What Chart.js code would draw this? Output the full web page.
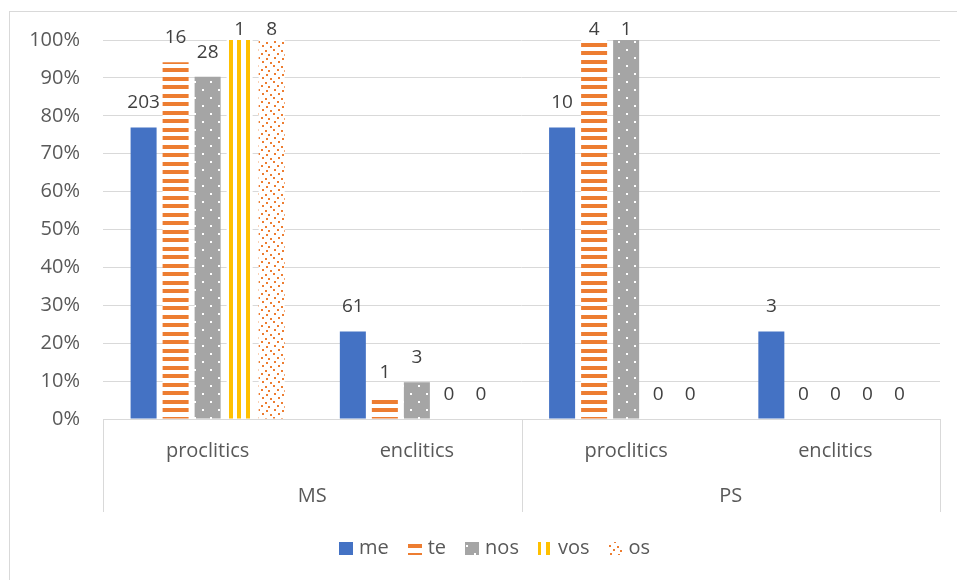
<!DOCTYPE html>
<html>
<head>
<meta charset="utf-8">
<script src="https://cdn.jsdelivr.net/npm/chart.js@4.4.1/dist/chart.umd.min.js"></script>
<style>
  html, body { margin: 0; padding: 0; background: #fff; }
  #wrap { position: relative; width: 957px; height: 580px; overflow: hidden; }
  #wrap canvas { position: absolute; left: 0; top: 0; }
  #frame { position: absolute; left: 9px; top: 11px; width: 1000px; height: 640px;
           border: 1px solid #d9d9d9; box-sizing: border-box; pointer-events: none; }
</style>
</head>
<body>
<div id="wrap">
  <canvas id="chart" width="957" height="580"></canvas>
  <div id="frame"></div>
</div>
<script>
// Clitic position by pronoun, in two corpora (MS / PS)
const groups = ['MS', 'PS'];
const categories = ['proclitics', 'enclitics', 'proclitics', 'enclitics'];
const categoryGroup = [0, 0, 1, 1];
const seriesNames = ['me', 'te', 'nos', 'vos', 'os'];

// token counts per category
const meCounts  = [203, 61, 10, 3];
const teCounts  = [16, 1, 4, 0];
const nosCounts = [28, 3, 1, 0];
const vosCounts = [1, 0, 0, 0];
const osCounts  = [8, 0, 0, 0];

const yTicks = [0, 10, 20, 30, 40, 50, 60, 70, 80, 90, 100];

// share of each count within its corpus (proclitics + enclitics = 100%)
function shares(counts) {
  return counts.map((c, i) => {
    let total = 0;
    counts.forEach((v, k) => { if (categoryGroup[k] === categoryGroup[i]) total += v; });
    return total ? c / total * 100 : 0;
  });
}

// fill patterns
function makePattern(w, h, paint) {
  const c = document.createElement('canvas');
  c.width = w; c.height = h;
  const g = c.getContext('2d');
  paint(g);
  return g.createPattern(c, 'repeat');
}
const ORANGE = '#ed7d31';
const teFill = makePattern(8, 17, g => {
  g.fillStyle = '#fff'; g.fillRect(0, 0, 8, 17);
  g.fillStyle = ORANGE; g.fillRect(0, 0, 8, 4); g.fillRect(0, 9, 8, 4);
});
const nosFill = makePattern(16, 16, g => {
  g.fillStyle = '#a5a5a5'; g.fillRect(0, 0, 16, 16);
  g.fillStyle = '#fff'; g.fillRect(2, 1, 2, 2); g.fillRect(10, 9, 2, 2);
});
const vosFill = makePattern(25, 4, g => {
  g.fillStyle = '#fff'; g.fillRect(0, 0, 25, 4);
  g.fillStyle = '#ffc000'; g.fillRect(4, 0, 4, 4); g.fillRect(12, 0, 4, 4); g.fillRect(21, 0, 4, 4);
});
const osFill = makePattern(16, 16, g => {
  g.fillStyle = '#fff'; g.fillRect(0, 0, 16, 16);
  g.fillStyle = ORANGE;
  [[1, 1], [9, 2], [5, 5], [12, 6], [2, 9], [10, 10], [6, 13], [14, 14]]
    .forEach(([x, y]) => g.fillRect(x, y, 2, 2));
});

const seriesCounts = [meCounts, teCounts, nosCounts, vosCounts, osCounts];
const seriesFills = ['#4472c4', teFill, nosFill, vosFill, osFill];

const FONT = '"Open Sans", "Liberation Sans", sans-serif';
const AXIS_COLOR = '#595959';
const GRID_COLOR = '#d9d9d9';

// count labels above each bar, kept inside the chart frame
const countLabels = {
  id: 'countLabels',
  afterDatasetsDraw(chart) {
    const ctx = chart.ctx;
    ctx.save();
    ctx.font = '19px ' + FONT;
    ctx.fillStyle = '#404040';
    ctx.textAlign = 'center';
    ctx.textBaseline = 'middle';
    chart.data.datasets.forEach((ds, i) => {
      chart.getDatasetMeta(i).data.forEach((bar, j) => {
        const y = Math.max(bar.y - 24.5, 30);
        ctx.fillText(String(ds.counts[j]), bar.x, y);
      });
    });
    ctx.restore();
  }
};

// second level of the category axis: corpus names with divider lines
const groupAxis = {
  id: 'groupAxis',
  afterDraw(chart) {
    const ctx = chart.ctx;
    const xs = chart.scales.x;
    const top = chart.chartArea.bottom;
    const bottom = top + 93;
    const edges = [xs.left];
    for (let i = 1; i < categories.length; i++) {
      if (categoryGroup[i] !== categoryGroup[i - 1]) {
        edges.push((xs.getPixelForTick(i - 1) + xs.getPixelForTick(i)) / 2);
      }
    }
    edges.push(xs.right);
    ctx.save();
    ctx.strokeStyle = GRID_COLOR;
    ctx.lineWidth = 1;
    edges.forEach(x => {
      const px = Math.round(x) + 0.5;
      ctx.beginPath(); ctx.moveTo(px, top); ctx.lineTo(px, bottom); ctx.stroke();
    });
    ctx.font = '20px ' + FONT;
    ctx.fillStyle = AXIS_COLOR;
    ctx.textAlign = 'center';
    ctx.textBaseline = 'middle';
    groups.forEach((name, g) => ctx.fillText(name, (edges[g] + edges[g + 1]) / 2, top + 77));
    ctx.restore();
  }
};

// legend row under the chart
const bottomLegend = {
  id: 'bottomLegend',
  afterDraw(chart) {
    const ctx = chart.ctx;
    ctx.save();
    ctx.font = '20px ' + FONT;
    ctx.textBaseline = 'middle';
    ctx.textAlign = 'left';
    const boxW = 14, boxH = 13, gapText = 6, gapItem = 19;
    const items = chart.data.datasets.map(d => ({
      label: d.label, fill: d.backgroundColor,
      w: boxW + gapText + ctx.measureText(d.label).width
    }));
    const total = items.reduce((a, it) => a + it.w, 0) + gapItem * (items.length - 1);
    let x = 494.5 - total / 2;
    const y = 548;
    items.forEach(it => {
      ctx.fillStyle = it.fill;
      ctx.fillRect(Math.round(x), y - 6, boxW, boxH);
      ctx.fillStyle = AXIS_COLOR;
      ctx.fillText(it.label, x + boxW + gapText, y);
      x += it.w + gapItem;
    });
    ctx.restore();
  }
};

new Chart(document.getElementById('chart'), {
  type: 'bar',
  data: {
    labels: categories,
    datasets: seriesNames.map((name, i) => ({
      label: name,
      data: shares(seriesCounts[i]),
      counts: seriesCounts[i],
      backgroundColor: seriesFills[i],
      borderWidth: 0,
      categoryPercentage: 0.765,
      barPercentage: 0.8125
    }))
  },
  options: {
    responsive: false,
    animation: false,
    events: [],
    layout: { padding: { left: 0, right: 17, top: 40, bottom: 0 } },
    plugins: { legend: { display: false }, tooltip: { enabled: false } },
    scales: {
      x: {
        grid: { display: false },
        border: { display: true, color: GRID_COLOR, width: 1 },
        ticks: { font: { family: FONT, size: 20 }, color: AXIS_COLOR, padding: 12, maxRotation: 0 },
        afterFit(s) { s.height = 161; }
      },
      y: {
        min: 0, max: 100,
        afterBuildTicks(s) { s.ticks = yTicks.map(v => ({ value: v })); },
        grid: { color: GRID_COLOR, lineWidth: 1, drawTicks: false },
        border: { display: false },
        ticks: { font: { family: FONT, size: 20 }, color: AXIS_COLOR, padding: 23,
                 callback: v => v + '%' },
        afterFit(s) { s.width = 103; }
      }
    }
  },
  plugins: [countLabels, groupAxis, bottomLegend]
});
</script>
</body>
</html>
